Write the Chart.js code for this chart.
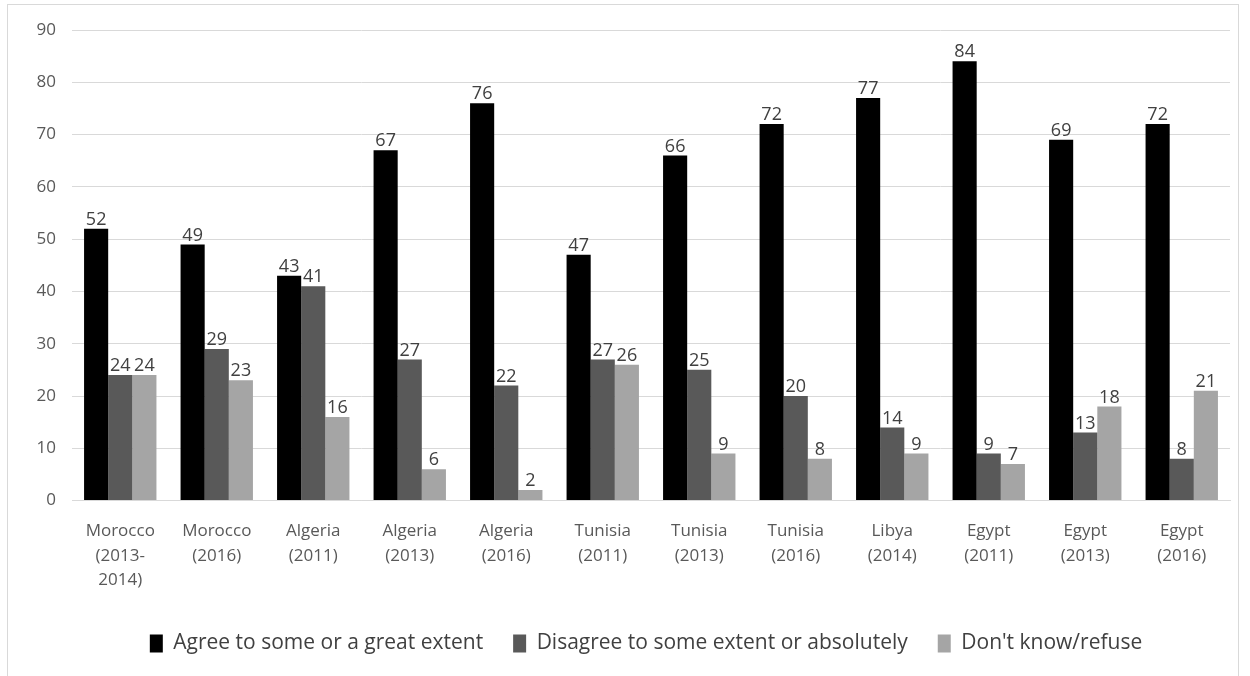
<!DOCTYPE html>
<html>
<head>
<meta charset="utf-8">
<script src="https://cdn.jsdelivr.net/npm/chart.js@4"></script>
<style>
  html, body { margin: 0; padding: 0; background: #fff; }
  #wrap { position: relative; width: 1250px; height: 676px; }
  #frame { position: absolute; left: 7px; top: 4px; width: 1230px; height: 690px; border: 1px solid #d9d9d9; }
  canvas { position: absolute; left: 0; top: 0; }
</style>
</head>
<body>
<div id="wrap">
  <div id="frame"></div>
  <canvas id="survey_chart" width="1250" height="676"></canvas>
</div>
<script>
// categories (country and survey year)
const categories = [
    ['Morocco', '(2013-', '2014)'],
    ['Morocco', '(2016)'],
    ['Algeria', '(2011)'],
    ['Algeria', '(2013)'],
    ['Algeria', '(2016)'],
    ['Tunisia', '(2011)'],
    ['Tunisia', '(2013)'],
    ['Tunisia', '(2016)'],
    ['Libya', '(2014)'],
    ['Egypt', '(2011)'],
    ['Egypt', '(2013)'],
    ['Egypt', '(2016)']
];

// series values (%)
const agree = [52, 49, 43, 67, 76, 47, 66, 72, 77, 84, 69, 72];
const disagree = [24, 29, 41, 27, 22, 27, 25, 20, 14, 9, 13, 8];
const dontKnow = [24, 23, 16, 6, 2, 26, 9, 8, 9, 7, 18, 21];

const seriesNames = ['Agree to some or a great extent', 'Disagree to some extent or absolutely', "Don't know/refuse"];

const yMin = 0;
const yMax = 90;
const yStep = 10;

const FONT = '"Open Sans", "Noto Sans", sans-serif';

// small plugin to write the value above each bar
const barValues = {
    id: 'barValues',
    afterDatasetsDraw(chart) {
        const ctx = chart.ctx;
        ctx.save();
        ctx.font = '18px ' + FONT;
        ctx.fillStyle = '#404040';
        ctx.textAlign = 'center';
        ctx.textBaseline = 'bottom';
        chart.data.datasets.forEach((ds, i) => {
            chart.getDatasetMeta(i).data.forEach((bar, j) => {
                ctx.fillText(ds.data[j], bar.x, bar.y);
            });
        });
        ctx.restore();
    }
};

// the legend in the original sits a little right of centre
const legendShift = {
    id: 'legendShift',
    afterLayout(chart) {
        if (chart.legend) {
            chart.legend.left += 21;
            chart.legend.right += 21;
        }
    }
};

const ctx = document.getElementById('survey_chart').getContext('2d');
new Chart(ctx, {
    type: 'bar',
    data: {
        labels: categories,
        datasets: [
            { label: seriesNames[0], data: agree, backgroundColor: '#000000' },
            { label: seriesNames[1], data: disagree, backgroundColor: '#595959' },
            { label: seriesNames[2], data: dontKnow, backgroundColor: '#a5a5a5' }
        ]
    },
    options: {
        responsive: false,
        animation: false,
        categoryPercentage: 0.75,
        barPercentage: 1.0,
        layout: { padding: { left: 20, right: 20, top: 30, bottom: 12 } },
        plugins: {
            tooltip: { enabled: false },
            legend: {
                position: 'bottom',
                labels: {
                    boxWidth: 13,
                    boxHeight: 18,
                    padding: 30,
                    color: '#404040',
                    font: { family: FONT, size: 21 }
                }
            }
        },
        scales: {
            x: {
                grid: { display: false },
                border: { color: '#d9d9d9', width: 1 },
                ticks: {
                    color: '#595959',
                    maxRotation: 0,
                    autoSkip: false,
                    padding: 11,
                    font: { family: FONT, size: 17, lineHeight: 1.42 }
                }
            },
            y: {
                min: yMin,
                max: yMax,
                grid: { color: '#d9d9d9', drawTicks: false },
                border: { display: false },
                afterFit(scale) { scale.width = 52; },
                ticks: {
                    stepSize: yStep,
                    color: '#595959',
                    padding: 16,
                    font: { family: FONT, size: 17 }
                }
            }
        }
    },
    plugins: [barValues, legendShift]
});
</script>
</body>
</html>
